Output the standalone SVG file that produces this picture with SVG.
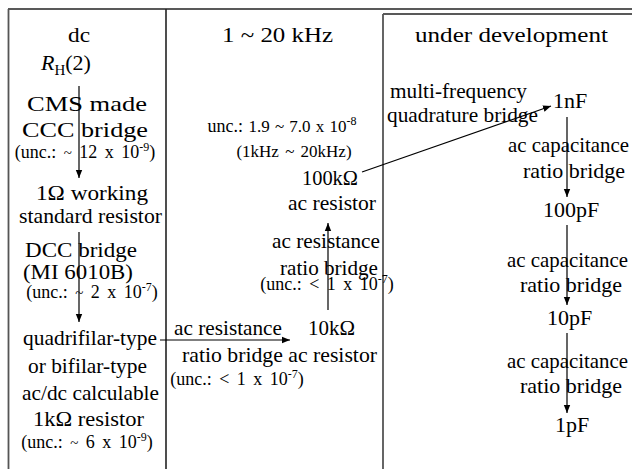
<svg xmlns="http://www.w3.org/2000/svg" width="632" height="469" viewBox="0 0 632 469">
<style>
text{font-family:"Liberation Serif","Times New Roman",serif;fill:#000}
.t{font-size:22px}
.u{font-size:18px;word-spacing:3px}
.s{font-size:12px}
.m{text-anchor:middle}
.frame{stroke:#222;stroke-width:1.6;fill:none}
.frame2{stroke:#555;stroke-width:1.8;fill:none}
.c{stroke:#000;stroke-width:1.2;fill:none}
.g{stroke:#555;stroke-width:1.8;fill:none}
</style>
<defs>
<marker id="ah" markerWidth="8" markerHeight="8" refX="8" refY="4" orient="auto" markerUnits="userSpaceOnUse">
<path d="M0,0.8 L8,4 L0,7.2 Z" fill="#000"/>
</marker>
</defs>
<rect width="632" height="469" fill="#fff"/>
<g id="frame">
<line class="frame" x1="8" y1="9" x2="632" y2="9"/>
<line class="frame2" x1="8.5" y1="9" x2="8.5" y2="469"/>
<line class="frame" x1="166" y1="9" x2="166" y2="469"/>
<line class="frame" x1="383" y1="14" x2="632" y2="14"/>
<line class="frame2" x1="383" y1="14" x2="383" y2="469"/>
</g>
<g id="connectors">
<line class="c" x1="79" y1="86" x2="79" y2="178" marker-end="url(#ah)"/>
<line class="c" x1="79" y1="232" x2="79" y2="322" marker-end="url(#ah)"/>
<line class="c" x1="160" y1="340" x2="290" y2="340" marker-end="url(#ah)"/>
<line class="c" x1="328" y1="310" x2="328" y2="223" marker-end="url(#ah)"/>
<line class="c" x1="362" y1="172" x2="551" y2="106" marker-end="url(#ah)"/>
<line class="g" x1="567" y1="117" x2="567" y2="197" marker-end="url(#ah)"/>
<line class="g" x1="567" y1="225" x2="567" y2="305" marker-end="url(#ah)"/>
<line class="g" x1="567" y1="333" x2="567" y2="413" marker-end="url(#ah)"/>
</g>
<g id="col-dc">
<text class="t" x="68" y="42" textLength="22" lengthAdjust="spacingAndGlyphs">dc</text>
</g>
<g id="node-rh">
<text class="t" x="41" y="70"><tspan font-style="italic">R</tspan><tspan font-size="15px" dy="5">H</tspan><tspan dy="-5">(2)</tspan></text>
</g>
<g id="label-ccc">
<text class="t" x="27" y="111" textLength="120" lengthAdjust="spacingAndGlyphs">CMS made</text>
<text class="t" x="22" y="137" textLength="126" lengthAdjust="spacingAndGlyphs">CCC bridge</text>
<text class="u m" x="85" y="158">(unc.: <tspan font-size="15px">~</tspan> 12 x 10<tspan class="s" dy="-7">-9</tspan><tspan dy="7">)</tspan></text>
</g>
<g id="node-1ohm">
<text class="t" x="36" y="200" textLength="112" lengthAdjust="spacingAndGlyphs">1Ω working</text>
<text class="t" x="19" y="223" textLength="143" lengthAdjust="spacingAndGlyphs">standard resistor</text>
</g>
<g id="label-dcc">
<text class="t" x="25" y="257" textLength="112" lengthAdjust="spacingAndGlyphs">DCC bridge</text>
<text class="t" x="23" y="279" textLength="110" lengthAdjust="spacingAndGlyphs">(MI 6010B)</text>
<text class="u m" x="92" y="298">(unc.: <tspan font-size="15px">~</tspan> 2 x 10<tspan class="s" dy="-7">-7</tspan><tspan dy="7">)</tspan></text>
</g>
<g id="node-1k">
<text class="t" x="23" y="345" textLength="134" lengthAdjust="spacingAndGlyphs">quadrifilar-type</text>
<text class="t" x="28" y="373" textLength="119" lengthAdjust="spacingAndGlyphs">or bifilar-type</text>
<text class="t" x="22" y="400" textLength="137" lengthAdjust="spacingAndGlyphs">ac/dc calculable</text>
<text class="t" x="33" y="426" textLength="111" lengthAdjust="spacingAndGlyphs">1kΩ resistor</text>
<text class="u m" x="87" y="448">(unc.: <tspan font-size="15px">~</tspan> 6 x 10<tspan class="s" dy="-7">-9</tspan><tspan dy="7">)</tspan></text>
</g>
<g id="col-ac">
<text class="t" x="222" y="42" textLength="111" lengthAdjust="spacingAndGlyphs">1 ~ 20 kHz</text>
<text class="u m" x="282" y="132" style="word-spacing:1px">unc.: <tspan font-size="17px">1.9 ~ 7.0 x 10</tspan><tspan class="s" dy="-7">-8</tspan></text>
<text class="u m" x="294" y="157" style="word-spacing:2px"><tspan font-size="17px">(1kHz ~ 20kHz)</tspan></text>
</g>
<g id="node-100k">
<text class="t" x="302" y="185" textLength="56" lengthAdjust="spacingAndGlyphs">100kΩ</text>
<text class="t" x="288" y="210" textLength="88" lengthAdjust="spacingAndGlyphs">ac resistor</text>
</g>
<g id="label-acr1">
<text class="t" x="272" y="248" textLength="108" lengthAdjust="spacingAndGlyphs">ac resistance</text>
<text class="t" x="280" y="275" textLength="98" lengthAdjust="spacingAndGlyphs">ratio bridge</text>
<text class="u m" x="327" y="290">(unc.: &lt; 1 x 10<tspan class="s" dy="-7">-7</tspan><tspan dy="7">)</tspan></text>
</g>
<g id="node-10k">
<text class="t" x="308" y="335" textLength="47" lengthAdjust="spacingAndGlyphs">10kΩ</text>
</g>
<g id="label-acr2">
<text class="t" x="174" y="335" textLength="108" lengthAdjust="spacingAndGlyphs">ac resistance</text>
<text class="t" x="182" y="362" textLength="195" lengthAdjust="spacingAndGlyphs">ratio bridge ac resistor</text>
<text class="u m" x="237" y="385">(unc.: &lt; 1 x 10<tspan class="s" dy="-7">-7</tspan><tspan dy="7">)</tspan></text>
</g>
<g id="col-dev">
<text class="t" x="415" y="42" textLength="193" lengthAdjust="spacingAndGlyphs">under development</text>
</g>
<g id="label-mfq">
<text class="t" x="390" y="98" textLength="137" lengthAdjust="spacingAndGlyphs">multi-frequency</text>
<text class="t" x="387" y="122" textLength="151" lengthAdjust="spacingAndGlyphs">quadrature bridge</text>
</g>
<g id="node-1nF">
<text class="t" x="553" y="108">1nF</text>
</g>
<g id="label-cap1">
<text class="t" x="508" y="152" textLength="121" lengthAdjust="spacingAndGlyphs">ac capacitance</text>
<text class="t" x="523" y="178">ratio bridge</text>
</g>
<g id="node-100pF">
<text class="t" x="543" y="217">100pF</text>
</g>
<g id="label-cap2">
<text class="t" x="507" y="267" textLength="121" lengthAdjust="spacingAndGlyphs">ac capacitance</text>
<text class="t" x="520" y="292">ratio bridge</text>
</g>
<g id="node-10pF">
<text class="t" x="547" y="325">10pF</text>
</g>
<g id="label-cap3">
<text class="t" x="507" y="368" textLength="121" lengthAdjust="spacingAndGlyphs">ac capacitance</text>
<text class="t" x="520" y="393">ratio bridge</text>
</g>
<g id="node-1pF">
<text class="t" x="555" y="432">1pF</text>
</g>
</svg>
